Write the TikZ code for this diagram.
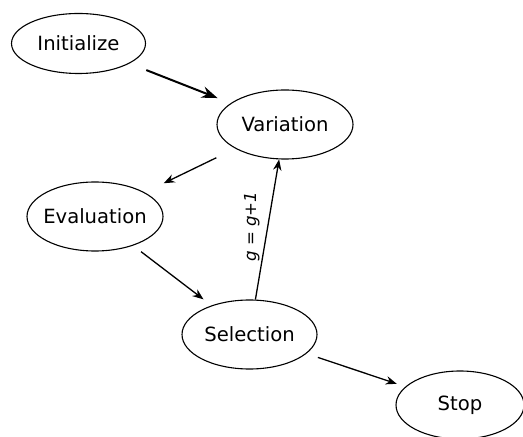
\documentclass[tikz,border=0pt]{standalone}
\usepackage{fontspec}
\setmainfont{DejaVu Sans}
\usetikzlibrary{positioning,arrows.meta,shapes.geometric}

\begin{document}
\begin{tikzpicture}[x=0.5pt, y=-0.5pt, >={Stealth[length=5.5pt,width=4.2pt]},
    stage/.style={draw, ellipse, inner xsep=-4pt, inner ysep=0pt, line width=0.55pt, font=\fontsize{9.8}{12}\selectfont},
    flow/.style={->, line width=0.65pt}]
    \useasboundingbox (0,0) rectangle (523,437);

    % Stages of the loop
    \node[stage, minimum width=67pt, minimum height=30pt] (init) at (78.5,43.5) {Initialize};
    \node[stage, minimum width=68pt, minimum height=34.5pt] (var) at (285,124.5) {Variation};
    \node[stage, minimum width=68pt, minimum height=34.5pt] (eval) at (95,216.5) {Evaluation};
    \node[stage, minimum width=67.5pt, minimum height=34.5pt] (sel) at (249.5,334.5) {Selection};
    \node[stage, minimum width=64pt, minimum height=34pt] (stop) at (460,405) {Stop};

    % Transitions
    \draw[->, line width=1pt, >={Stealth[length=8pt,width=5.8pt]}, shorten <=9pt, shorten >=7pt] (init) -- (var);
    \draw[flow, shorten <=10.5pt, shorten >=10.5pt] (var) -- (eval);
    \draw[flow, shorten <=5pt, shorten >=5pt] (eval) -- (sel);
    \draw[flow] (sel) -- (var)
        node[pos=0.52, xshift=-8pt, rotate=90, font=\fontsize{8.3}{10}\selectfont\itshape] {g = g+1};
    \draw[flow, shorten <=6pt, shorten >=4.5pt] (sel) -- (stop);
\end{tikzpicture}
\end{document}
